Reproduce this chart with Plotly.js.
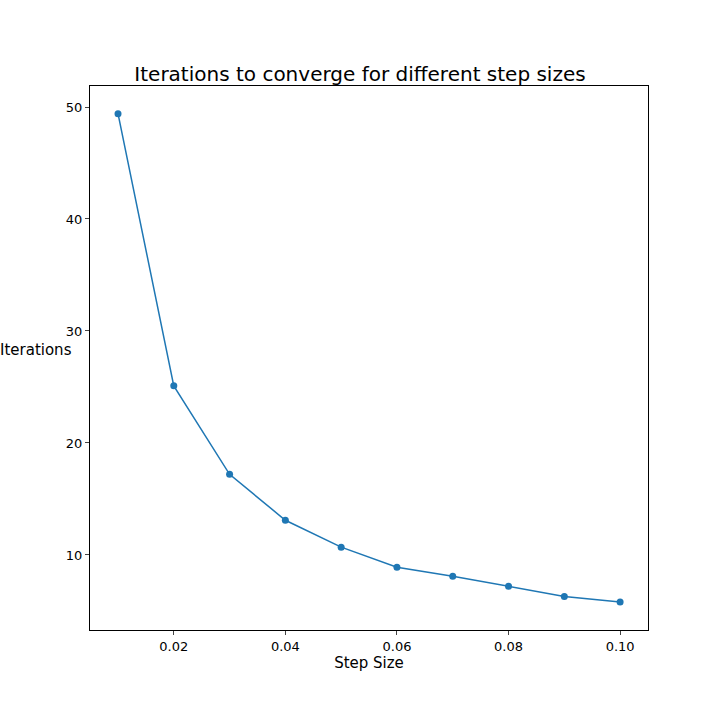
<html><head><script src="https://cdn.plot.ly/plotly-3.0.1.min.js"></script></head><body style="margin:0">
<div id="c" style="width:720px;height:720px"></div>
<script>
const stepSizes=[0.01,0.02,0.03,0.04,0.05,0.06,0.07,0.08,0.09,0.10];
const iterations=[49.4,25.1,17.2,13.1,10.7,8.9,8.1,7.2,6.3,5.8];
const tickVals=[0.02,0.04,0.06,0.08,0.10];
const tickText=['0.02','0.04','0.06','0.08','0.10'];
Plotly.newPlot('c',[{x:stepSizes,y:iterations,mode:'lines+markers',line:{color:'#1f77b4',width:1.5},marker:{color:'#1f77b4',size:7}}],{
width:720,height:720,showlegend:false,paper_bgcolor:'white',plot_bgcolor:'white',
margin:{l:90,r:72,t:86,b:90},
font:{family:'DejaVu Sans',color:'black'},
title:{text:'Iterations to converge for different step sizes',font:{size:20},x:0.5,xanchor:'center',y:0.887,yanchor:'bottom'},
xaxis:{range:[0.00498,0.105],tickvals:tickVals,ticktext:tickText,showgrid:false,zeroline:false,showline:true,mirror:true,linecolor:'black',linewidth:1,ticks:'outside',ticklen:4,tickfont:{size:13},title:{text:'Step Size',font:{size:15},standoff:3}},
yaxis:{range:[3.3,51.875],tickvals:[10,20,30,40,50],showgrid:false,zeroline:false,showline:true,mirror:true,linecolor:'black',linewidth:1,ticks:'outside',ticklen:4,tickfont:{size:13}},
annotations:[{text:'Iterations',xref:'paper',yref:'paper',x:-0.165,y:0.515,xanchor:'left',yanchor:'middle',showarrow:false,font:{size:15}}]
},{displayModeBar:false});
</script></body></html>
